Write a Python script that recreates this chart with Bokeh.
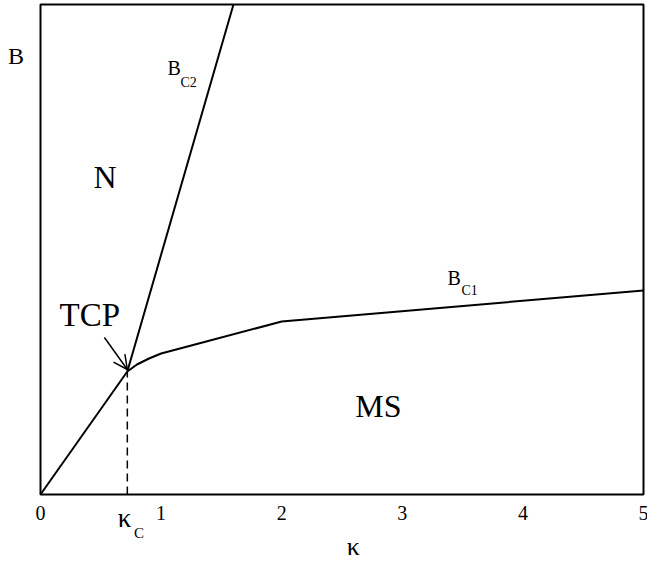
from bokeh.plotting import figure
from bokeh.models import Arrow, OpenHead, Range1d
from bokeh.core.properties import value
from bokeh.embed import file_html
from bokeh.resources import INLINE

# --- data ---
kappa_c = 0.72
B_tcp = 1.23
B_top = 4.9
# B_C1 curve (from TCP to right edge)
bc1_x = [0.72, 0.80, 0.90, 1.00, 1.25, 2.00, 5.00]
bc1_y = [1.23, 1.30, 1.36, 1.41, 1.49, 1.73, 2.04]
# B_C2 line (from TCP to top)
bc2_x = [0.72, 1.60]
bc2_y = [1.23, 4.90]
# line from origin to TCP
low_x = [0.0, 0.72]
low_y = [0.0, 1.23]
tick_vals = [0, 1, 2, 3, 4, 5]
tick_labels = ["0", "1", "2", "3", "4", "5"]

FONT = "Liberation Serif"
DY = 0.12  # text baseline correction

p = figure(width=647, height=566, output_backend="svg", toolbar_location=None,
           x_range=Range1d(-40 / 120.6, 607 / 120.6), y_range=Range1d(-0.72, 4.94),
           x_axis_location=None, y_axis_location=None,
           min_border=0, min_border_left=0, min_border_right=0,
           min_border_top=0, min_border_bottom=0)
p.xgrid.visible = False
p.ygrid.visible = False
p.outline_line_color = None
p.background_fill_color = "white"
p.border_fill_color = "white"

# plot box
p.quad(left=[0], right=[5], bottom=[0], top=[B_top], fill_color=None,
       line_color="black", line_width=2)

p.line(low_x, low_y, line_color="black", line_width=2)
p.line(bc2_x, bc2_y, line_color="black", line_width=2)
p.line(bc1_x, bc1_y, line_color="black", line_width=2)
p.line([kappa_c, kappa_c], [0, B_tcp], line_color="black", line_width=1.5, line_dash="8 5")

p.add_layout(Arrow(end=OpenHead(size=14, line_width=1.5, line_color="black"),
                   x_start=0.53, y_start=1.57, x_end=kappa_c, y_end=B_tcp + 0.02,
                   line_width=1.5, line_color="black"))

# tick labels
p.text(x=tick_vals, y=[-0.28 + 0.10] * len(tick_vals), text=tick_labels,
       text_font=value(FONT), text_font_size="20px", text_color="black",
       text_align="center", text_baseline="alphabetic")

def lab(x, y, t, size):
    p.text(x=[x], y=[y + DY], text=[t], text_font=value(FONT), text_font_size=size,
           text_color="black", text_baseline="alphabetic", text_align="left")

lab(0.44, 3.06, "N", "32px")
lab(2.61, 0.77, "MS", "32px")
lab(0.158, 1.68, "TCP", "33px")
lab(-0.27, 4.27, "B", "24px")
lab(1.053, 4.15, "B", "20px")
lab(1.16, 4.00, "C2", "14px")
lab(3.375, 2.05, "B", "20px")
lab(3.49, 1.92, "C1", "14px")
lab(0.64, -0.35, "κ", "27px")
lab(0.775, -0.50, "C", "15px")
lab(2.54, -0.64, "κ", "26px")

open("out.html", "w").write(file_html(p, INLINE))
